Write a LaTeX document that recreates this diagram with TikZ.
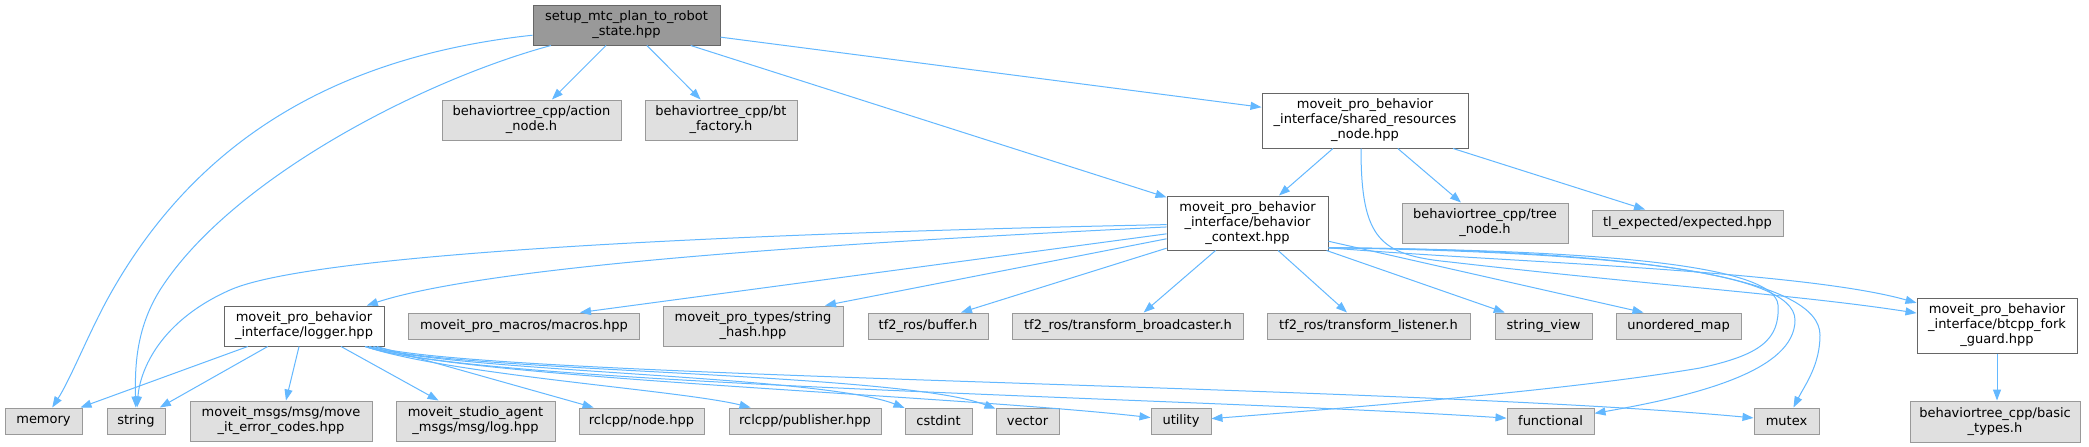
\documentclass[tikz,border=0pt]{standalone}
\usepackage{fontspec}
\setmainfont{DejaVu Sans}
\usetikzlibrary{arrows.meta}
\definecolor{edgec}{HTML}{63B8FF}
\definecolor{extfill}{HTML}{E0E0E0}
\definecolor{extdraw}{HTML}{999999}
\definecolor{docdraw}{HTML}{666666}
\definecolor{rootfill}{HTML}{999999}
\begin{document}
\begin{tikzpicture}[x=1pt,y=-1pt,
  box/.style={draw, line width=1pt, inner sep=0pt, align=center, font=\fontsize{13}{15}\selectfont},
  ext/.style={box, fill=extfill, draw=extdraw},
  doc/.style={box, fill=white, draw=docdraw},
  rootbox/.style={box, fill=rootfill, draw=docdraw},
  dep/.style={draw=edgec, line width=1pt, -{Triangle[length=11pt,width=8pt]}}
]
\useasboundingbox[fill=white] (0,0) rectangle (2089,447);
% row 1
\node[rootbox, minimum width=187pt, minimum height=40pt] (root) at (626.5,25) {setup\_mtc\_plan\_to\_robot\\\_state.hpp};
% row 2
\node[ext, minimum width=179pt, minimum height=40pt] (action) at (531.5,120) {behaviortree\_cpp/action\\\_node.h};
\node[ext, minimum width=152pt, minimum height=40pt] (btfactory) at (721,120) {behaviortree\_cpp/bt\\\_factory.h};
\node[doc, minimum width=206pt, minimum height=55pt] (shared) at (1365,120.5) {moveit\_pro\_behavior\\\_interface/shared\_resources\\\_node.hpp};
% row 3
\node[doc, minimum width=161pt, minimum height=54pt] (bc) at (1247.5,223) {moveit\_pro\_behavior\\\_interface/behavior\\\_context.hpp};
\node[ext, minimum width=166pt, minimum height=40pt] (treenode) at (1485,223) {behaviortree\_cpp/tree\\\_node.h};
\node[ext, minimum width=191pt, minimum height=26pt] (tlexp) at (1687.5,223) {tl\_expected/expected.hpp};
% row 4
\node[doc, minimum width=160pt, minimum height=40pt] (logger) at (304,326) {moveit\_pro\_behavior\\\_interface/logger.hpp};
\node[ext, minimum width=231pt, minimum height=26pt] (macros) at (524,326) {moveit\_pro\_macros/macros.hpp};
\node[ext, minimum width=180pt, minimum height=40pt] (strhash) at (753,326) {moveit\_pro\_types/string\\\_hash.hpp};
\node[ext, minimum width=120pt, minimum height=26pt] (buffer) at (928,326) {tf2\_ros/buffer.h};
\node[ext, minimum width=231pt, minimum height=26pt] (bcast) at (1128,326) {tf2\_ros/transform\_broadcaster.h};
\node[ext, minimum width=203pt, minimum height=26pt] (listener) at (1368.5,326) {tf2\_ros/transform\_listener.h};
\node[ext, minimum width=97pt, minimum height=26pt] (strview) at (1543.5,326) {string\_view};
\node[ext, minimum width=125pt, minimum height=26pt] (umap) at (1678.5,326) {unordered\_map};
\node[doc, minimum width=160pt, minimum height=55pt] (fork) at (1997,325.5) {moveit\_pro\_behavior\\\_interface/btcpp\_fork\\\_guard.hpp};
% row 5
\node[ext, minimum width=77pt, minimum height=26pt] (memory) at (43.5,421) {memory};
\node[ext, minimum width=58pt, minimum height=26pt] (string) at (136,421) {string};
\node[ext, minimum width=182pt, minimum height=40pt] (msgs) at (281,421) {moveit\_msgs/msg/move\\\_it\_error\_codes.hpp};
\node[ext, minimum width=159pt, minimum height=40pt] (agent) at (475.5,421) {moveit\_studio\_agent\\\_msgs/msg/log.hpp};
\node[ext, minimum width=125pt, minimum height=26pt] (rclnode) at (641.5,421) {rclcpp/node.hpp};
\node[ext, minimum width=152pt, minimum height=26pt] (pub) at (805,421) {rclcpp/publisher.hpp};
\node[ext, minimum width=67pt, minimum height=26pt] (cstdint) at (938.5,421) {cstdint};
\node[ext, minimum width=63pt, minimum height=26pt] (vector) at (1027.5,421) {vector};
\node[ext, minimum width=60pt, minimum height=26pt] (utility) at (1181,421) {utility};
\node[ext, minimum width=87pt, minimum height=26pt] (functional) at (1550.5,421) {functional};
\node[ext, minimum width=65pt, minimum height=26pt] (mutex) at (1786.5,421) {mutex};
\node[ext, minimum width=170pt, minimum height=41pt] (basic) at (1995,421.5) {behaviortree\_cpp/basic\\\_types.h};
% root edges
\draw[dep] (root) .. controls (350,55) and (200,130) .. (107,300) .. controls (88,335) and (70,380) .. (memory);
\draw[dep] (root) .. controls (420,81) and (230,180) .. (160,290) .. controls (135,330) and (135,370) .. (string);
\draw[dep] (root) -- (action);
\draw[dep] (root) -- (btfactory);
\draw[dep] (root) -- (bc);
\draw[dep] (root) -- (shared);
% shared edges
\draw[dep] (shared) -- (bc);
\draw[dep] (shared) -- (treenode);
\draw[dep] (shared) -- (tlexp);
\draw[dep] ([xshift=-4pt]shared.south) .. controls (1361,240) and (1380,255) .. (1450,262) .. controls (1650,285) and (1800,295) .. (fork);
% behavior context edges
\draw[dep] (bc) .. controls (900,240) and (500,262) .. (logger);
\draw[dep] (bc) .. controls (800,232) and (320,250) .. (230,290) .. controls (160,321) and (140,370) .. (string);
\draw[dep] (bc) -- ([xshift=56pt]macros.north);
\draw[dep] (bc) -- ([xshift=72pt]strhash.north);
\draw[dep] (bc) -- ([xshift=33pt]buffer.north);
\draw[dep] (bc) -- (bcast);
\draw[dep] (bc) -- ([xshift=-21.5pt]listener.north);
\draw[dep] (bc) -- (strview);
\draw[dep] (bc) -- ([xshift=-35pt]umap.north);
\draw[dep] (bc.-17) .. controls (1500,262) and (1800,270) .. (fork);
\draw[dep] (bc.-17) .. controls (1600,250) and (1775,265) .. (1778,305) .. controls (1780,340) and (1760,355) .. (1700,368) .. controls (1600,385) and (1450,400) .. (utility);
\draw[dep] (bc.-17) .. controls (1600,252) and (1795,270) .. (1795,320) .. controls (1795,370) and (1700,395) .. (functional);
\draw[dep] (bc.-17) .. controls (1650,250) and (1820,280) .. (1820,335) .. controls (1820,365) and (1805,385) .. (mutex);
% logger edges
\draw[dep] (logger) -- (memory);
\draw[dep] (logger) -- (string);
\draw[dep] (logger) -- (msgs);
\draw[dep] (logger) -- (agent);
\draw[dep] (logger) -- (rclnode);
\draw[dep] (logger) .. controls (450,375) and (680,390) .. (pub);
\draw[dep] (logger) .. controls (450,372) and (820,375) .. (cstdint);
\draw[dep] (logger) .. controls (450,372) and (900,372) .. (vector);
\draw[dep] (logger) .. controls (460,378) and (950,395) .. (utility);
\draw[dep] (logger) .. controls (480,385) and (1200,398) .. (functional);
\draw[dep] (logger) .. controls (480,378) and (1400,385) .. (mutex);
% fork guard
\draw[dep] (fork.south) -- (fork.south |- basic.north);
\end{tikzpicture}
\end{document}
